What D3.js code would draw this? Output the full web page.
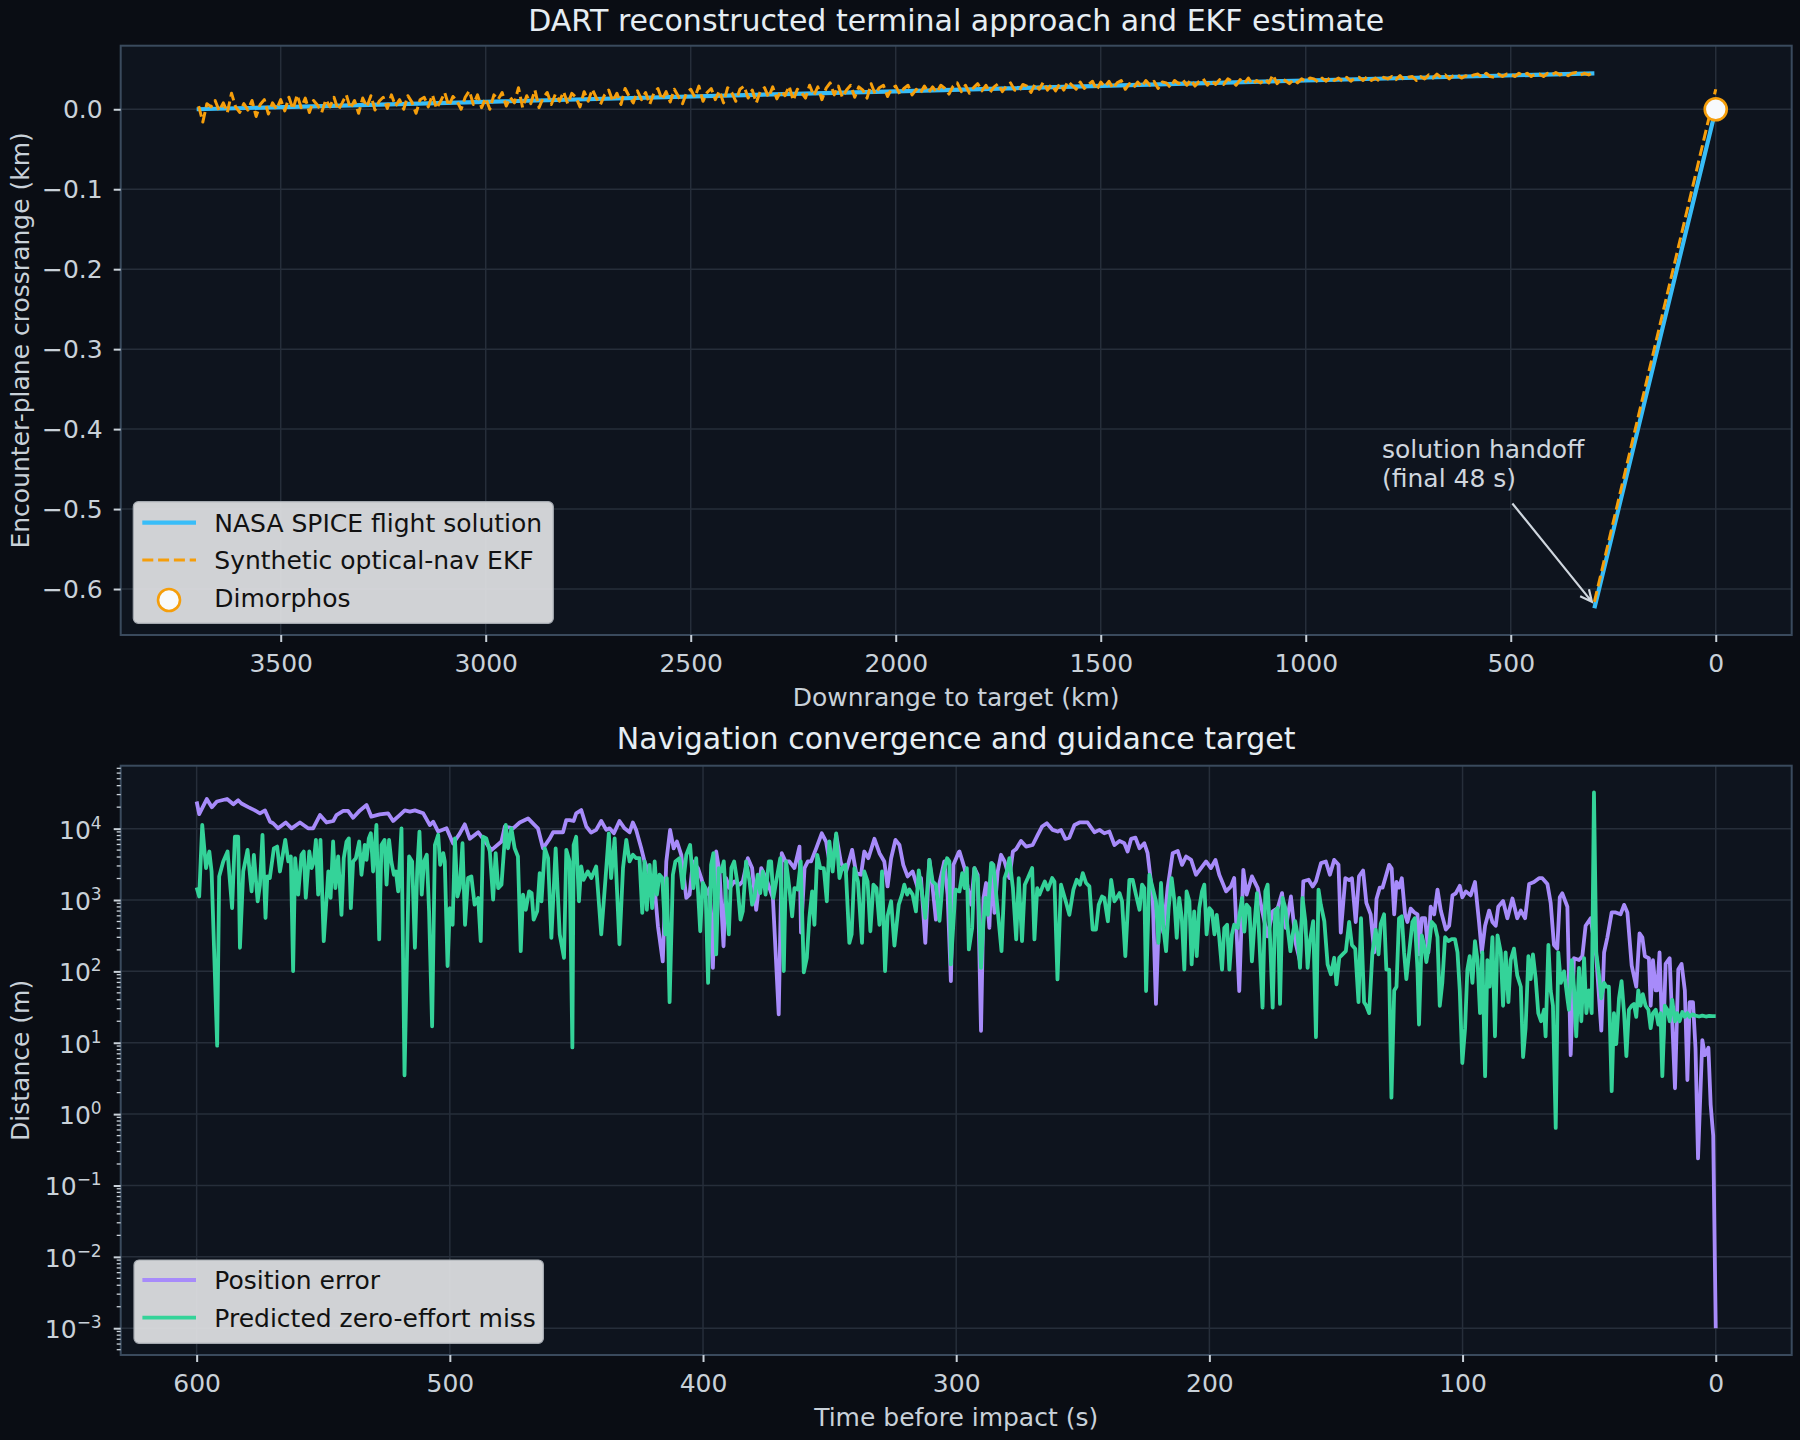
<!DOCTYPE html>
<html lang="en">
<head>
<meta charset="utf-8">
<title>DART terminal approach and EKF estimate</title>
<script src="https://cdn.jsdelivr.net/npm/d3@7"></script>
<style>
  body { margin: 0; background: #0a0d14; font-family: "DejaVu Sans", sans-serif; }
  svg { display: block; }
</style>
</head>
<body>
<script>

// ---- top panel data (km) ----
// flight solution, cruise leg and terminal leg
var truthDownKm = [3705, 3000, 2000, 1000, 296];
var truthCrossKm = [0.000, 0.0093, 0.0225, 0.036, 0.045];
var terminalDownKm = [296, 0];
var terminalTruthKm = [-0.624, 0.000];
var terminalEkfKm = [-0.616, 0.025];

// EKF crossrange sampled every 10 km, 3700 -> 300
var ekfCrossKm = [
  0.004,-0.016,0.007,0.003,0.011,-0.002,0.008,-0.004,0.020,0.003,
  -0.004,0.007,-0.001,0.011,-0.009,0.006,0.012,-0.006,0.008,0.000,
  0.012,-0.002,0.015,0.000,0.018,0.002,0.014,-0.004,0.011,0.005,
  -0.004,0.012,0.003,0.015,-0.001,0.008,0.018,0.001,0.011,-0.005,
  0.014,0.003,0.017,-0.001,0.010,0.015,0.001,0.018,0.004,0.012,
  0.000,0.017,0.009,-0.005,0.012,0.015,0.003,0.018,0.001,0.010,
  0.021,0.004,0.016,0.010,0.000,0.015,0.023,0.006,0.018,0.002,
  0.014,0.000,0.018,0.012,0.021,0.004,0.015,0.008,0.027,0.002,
  0.017,0.007,0.024,0.002,0.014,0.021,0.006,0.019,0.010,0.022,
  0.007,0.020,0.015,0.003,0.022,0.010,0.025,0.014,0.006,0.018,
  0.024,0.010,0.020,0.006,0.026,0.016,0.008,0.023,0.012,0.021,
  0.006,0.020,0.026,0.012,0.022,0.009,0.025,0.016,0.007,0.021,
  0.025,0.015,0.029,0.010,0.021,0.026,0.012,0.023,0.008,0.027,
  0.021,0.010,0.025,0.029,0.014,0.024,0.008,0.023,0.027,0.015,
  0.028,0.013,0.023,0.017,0.029,0.011,0.025,0.021,0.014,0.030,
  0.017,0.028,0.012,0.026,0.033,0.018,0.029,0.015,0.024,0.030,
  0.015,0.028,0.024,0.014,0.032,0.019,0.027,0.030,0.016,0.026,
  0.029,0.019,0.026,0.030,0.018,0.025,0.020,0.029,0.021,0.028,
  0.021,0.030,0.026,0.019,0.029,0.033,0.022,0.030,0.020,0.027,
  0.032,0.023,0.030,0.021,0.028,0.032,0.022,0.029,0.033,0.024,
  0.022,0.031,0.029,0.021,0.032,0.025,0.034,0.024,0.031,0.023,
  0.032,0.024,0.035,0.030,0.025,0.034,0.026,0.031,0.035,0.024,
  0.034,0.028,0.035,0.026,0.033,0.036,0.025,0.032,0.027,0.034,
  0.028,0.036,0.030,0.035,0.026,0.034,0.033,0.027,0.036,0.032,
  0.037,0.030,0.037,0.029,0.035,0.038,0.030,0.036,0.031,0.037,
  0.031,0.038,0.035,0.030,0.037,0.032,0.039,0.031,0.036,0.033,
  0.038,0.033,0.043,0.032,0.038,0.036,0.032,0.037,0.033,0.038,
  0.035,0.039,0.038,0.034,0.039,0.035,0.040,0.036,0.039,0.035,
  0.040,0.035,0.039,0.040,0.036,0.041,0.036,0.039,0.035,0.040,
  0.038,0.041,0.037,0.042,0.037,0.040,0.041,0.036,0.041,0.038,
  0.043,0.039,0.044,0.040,0.043,0.038,0.042,0.043,0.039,0.042,
  0.040,0.043,0.044,0.040,0.045,0.041,0.040,0.044,0.041,0.044,
  0.044,0.041,0.045,0.042,0.045,0.041,0.044,0.044,0.041,0.045,
  0.043,0.046,0.043,0.045,0.042,0.045,0.046,0.043,0.045,0.043,
  0.046
];
var ekfDownKm = d3.range(3700, 299, -10);

var dimorphos = [0, 0];
var topXTicks = [3500, 3000, 2500, 2000, 1500, 1000, 500, 0];
var topYTicks = [0.0, -0.1, -0.2, -0.3, -0.4, -0.5, -0.6];

// ---- bottom panel data: [seconds before impact, metres] ----
var positionError = [
  [600,24000],[599,16000],[596,26000],[594,20000],[592,24000],[588,26000],[585.5,22000],[583.6,25000],
  [582.3,22500],[579.6,20000],[577,18000],[575,16400],[573,18000],[571,12500],[569.8,11900],[567.8,10100],
  [564.8,12200],[562.5,10100],[559.2,12200],[556,10100],[554,10100],[551.3,15500],[548.7,12200],[546,12800],
  [544.8,15500],[542.1,17700],[540.2,17700],[538.2,14200],[535.5,18000],[532.9,21400],[531,14700],[527.7,15800],
  [524.4,16400],[522.4,12800],[519.8,15500],[517.8,18000],[515.8,17300],[513.8,18000],[510.5,16400],[507.9,11200],
  [506.6,12500],[504.6,9100],[501.3,10100],[498.7,6200],[496.1,8500],[494.1,11500],[492.1,7200],[488.8,8900],
  [487.5,7700],[483.6,5000],[479.6,6600],[478.3,10700],[475,10100],[472.4,12200],[469.1,13900],[466.5,11200],
  [465.2,10100],[463.2,5300],[460.5,7300],[459.2,8900],[455.3,8900],[454,13200],
  [452.7,13200],[451.1,12800],[450.1,16400],[448.1,18200],[446.1,10700],[444.2,8800],[442.2,9600],[440.2,12800],
  [438.2,9600],[436.9,10100],[435.2,8600],[433,12800],[431,10100],[429,8900],[427.7,12200],[426.4,9600],
  [424.4,5300],[423.1,3470],[421.1,2260],[419.1,1470],[417.8,430],[415.9,138],[414.5,3470],[413,9600],
  [411.6,5300],[410.3,6600],[408.6,4300],[406.6,1070],[405.3,1190],[404,3470],[402,2800],[400.7,2030],
  [398.8,1190],[397.4,1470],[396.1,112],[394.8,4780],[393.5,2510],[391.9,225],[390.9,2030],[389.5,1470],
  [387.6,1820],[385.6,1640],[384.3,1820],[382.3,3850],[380.6,2800],[379,730],[377,2800],[375.1,2030],
  [372.4,1070],[370.1,25],[368.9,4530],[367.4,3470],[365.9,3470],[363.9,2800],[361.9,5600],[361.3,350],
  [359.9,2800],[358.6,3470],[357.3,3470],[355.3,5300],[353.1,8600],[351.4,6600],[350.1,3470],[348.8,3110],
  [347.4,8200],[345.5,3290],[343.5,2510],[341.1,5040],[339.5,2380],[337.6,2260],[336.3,4780],[334.7,3850],
  [332.3,7200],[330.3,4530],[328.4,3470],[327.1,1550],[325.7,3850],[324,6950],[322.4,5900],[320.9,3110],
  [319.2,2140],[317.2,2510],[315.2,1470],[313.9,2030],[312.2,250],[310.6,3650],[309.3,1470],[308,530],
  [306.6,1730],[304.7,3470],[303.4,1190],[302.1,73],[301.1,3110],[299,4680],
  [298.7,4780],[296.7,2800],[295.4,1470],[294.1,860],[292.8,2800],[291.5,2260],[290.2,14.7],[289.2,1070],
  [288.2,1730],[286.9,406],[285.9,3290],[284.9,660],[283.6,2510],[282.3,4300],[280.9,3470],[279,2030],
  [277.6,4780],[276.3,5200],[274.4,6730],[272.4,5600],[269.8,5900],[267.8,8200],[266.1,10700],[264.2,11900],
  [261.9,9600],[259.9,9100],[258.6,9600],[256.9,7200],[255.3,7480],[253.3,11250],[251.3,12200],[248.1,12200],
  [245.4,8900],[243.4,9600],[241.5,8600],[239.5,9100],[237.5,5900],[235.5,6730],[233.6,6240],[232.3,4780],
  [230.9,7200],[229.2,7480],[227.6,5300],[225.7,6240],[224.4,4530],[222.4,1120],[221.1,35],[219.8,770],
  [218.2,350],[216.5,1470],[214.5,4530],[212.5,4880],[210.8,3110],[209.2,4070],[207.2,3650],[205.3,2260],
  [203.3,2800],[201.3,3470],[199.4,2800],[197.6,3650],[196.1,2260],[193.4,1320],[191.5,1550],[190.2,2030],
  [188.2,53],[186.6,2650],[185.3,1190],[183.2,2140],[180.9,1470],[179,660],[177,310],[175,695],
  [173,770],[171.3,1250],[169.8,406],[167.8,1120],[165.8,238],[164.2,138],[162.9,1830],[160.8,1920],
  [159.2,1550],[157.9,1830],[155.9,3290],[154,3470],[152.4,2260],[150.7,3650],[149,3110],[148.1,350],[146.3,2030],
  [144.8,1900],[143.7,2020],[142.2,492],[140.9,2150],[139.3,2590],[138,910],[136.3,630],[134.9,184],
  [134,1030],[132.7,1490],[131.6,1490],[130.3,2150],[129,3110],[128,2750],[127,630],[126.1,1790],
  [125.1,1490],[124,2020],[122.7,630],[121.8,492],[120.5,757],[119.1,670],[117.8,630],[117.2,173],
  [116.1,556],[114.8,556],[113.5,184],[112.6,804],[111.2,630],[109.9,1400],[108.6,711],[106.6,385],
  [105.3,435],[104,1160],[102.7,1240],[101.1,1580],[100.1,1090],[98.7,1320],[96.8,1160],[95.1,1790],
  [93.5,492],[92.4,184],[91.1,435],[89.5,711],[88.2,492],[86.9,435],[85.9,804],[84,970],
  [82.3,556],[80.3,1050],[78.4,556],[77,711],[75.3,556],[73.7,1680],[71.8,1790],[69.8,2020],
  [68.5,2020],[66.5,1680],[65.2,910],[63.9,235],[62.6,208],[61.6,1090],[60.6,1240],[58.6,804],
  [57.3,6.7],[56,153],[54,144],[52.7,163],[51.4,435],[49.4,556],[47.2,163],[45.2,14.8],
  [44.1,184],[42.8,300],[41.1,670],[39.5,670],[37.6,630],[36.2,855],[34.9,670],[33.2,120],
  [31.4,61],[30.1,340],[29,300],[28,163],[26.4,153],[25.7,33],[24.8,144],[23.7,54],
  [23.1,54],[22.2,184],[20.9,7.5],[19.8,127],[18.2,153],[16.1,2.3],[14.8,106],[13.5,127],
  [12.2,54],[11.2,3],[10.3,37],[9,37],[8,8.5],[7,0.24],[5.3,10.9],[4.3,6.7],
  [2.9,8.5],[2,1.35],[1,0.5],[0,0.001]
];

var zeroEffortMiss = [
  [600,1500],[599,1120],[597.8,11250],[596.3,2800],[595,4780],[594.1,2510],[591.9,9.1],[591.1,2140],
  [589.5,3470],[587.8,4780],[586,770],[584.9,7700],[583.6,7700],[582.9,214],[581.6,2510],[579.9,5040],
  [578.3,1320],[577.4,4300],[575.9,960],[575,1640],[574,8200],[572.8,560],[572.1,2140],[571.1,2030],
  [569.5,5300],[568.2,5600],[567.1,2510],[565,6950],[563.8,3470],[562.8,4070],[561.9,101],[561.1,3850],
  [559.9,1190],[558.6,4300],[557.7,4780],[556.9,1070],[555.5,4780],[554.6,2800],[553.7,3470],[552.9,6950],
  [552,1190],[551.1,6950],[549.8,265],[548,2510],[547.1,1070],[546.1,6600],[545.2,1470],[544.1,4070],
  [542.8,620],[541.9,3850],[540.8,6600],[539.9,7300],[539.1,770],[538.2,3470],[537.1,3850],[535.8,6600],
  [534.9,2260],[533.6,5900],[532.9,3650],[532,7300],[531.2,8600],[530.3,2510],[529,11250],[527.9,280],
  [527,5900],[525.8,6950],[525,1640],[524,6950],[523.1,3470],[522.1,2260],[521.3,2510],[520.4,1320],
  [519.1,10100],[517.9,3.5],[516.1,4070],[514.9,3470],[513.8,214],[512.9,2510],[512,9100],[511.1,1190],
  [510.2,3470],[509.1,4300],[508.2,695],[507,17],[505.9,5900],[504.6,8200],[503.8,3110],[502.6,4530],
  [502,3470],[500.9,119],[500,770],[498.9,450],[498,7300],[497,1120],[496.1,1470],[495,6240],
  [494,450],[492.8,2030],[491.5,2140],[490.2,860],[488.8,1070],[487.8,265],[486.9,7700],[485.6,7300],
  [484.2,4780],[482.9,1010],[481.9,4530],[480.9,1470],[479.6,1640],[477.9,11250],[477,5300],[475.7,10100],
  [474.4,5300],[473.1,4070],[472,192],[471.1,1190],[470,730],[468.7,1320],[467.7,1250],[466.9,530],
  [465.5,695],[464.5,2380],[463.8,960],[462.5,5300],[461.2,3850],[459.9,295],[458.2,5300],[456.6,330],
  [454.9,155],[454,5040],
  [452.7,3470],[451.6,8.6],[451.1,5900],[450.1,7700],[449,960],[448.1,2950],[447.2,1920],[445.5,2510],
  [444.1,2030],[442.2,2950],[440.2,330],[438.5,2030],[437.2,8600],[436.3,2030],[434.9,7300],[433,240],
  [431.6,2800],[430.3,6950],[429,3470],[427.7,4300],[426.4,3850],[425.1,3850],[424,660],[423.1,3470],
  [422.2,730],[421.1,3110],[420.1,770],[419.1,3470],[418.2,1190],[417.2,2260],[416.1,2030],[414.9,330],
  [414.3,2030],[413.2,37],[411.9,2260],[410.9,3470],[409.3,3850],[408,1470],[406.6,4300],[405.1,5900],
  [403.8,1470],[402.7,3850],[401.1,365],[400.1,1730],[399,1470],[398,69],[396.8,3110],[395.9,4530],
  [394.8,173],[393.8,2800],[392.8,2510],[391.8,3470],[390.9,960],[389.8,330],[388.8,2800],[387.7,3470],
  [386.5,1820],[385.2,530],[384.3,695],[383,3470],[381.6,1820],[380.6,860],[379.7,1070],[378.4,2260],
  [377.4,1250],[376.4,2510],[375.3,1190],[374,3470],[373.1,3470],[372.2,1070],[371.1,1820],[369.5,3850],
  [368.1,101],[367.2,3470],[365.9,1470],[364.8,590],[363.9,1470],[362.6,1400],[361.4,3470],[360.2,97],
  [359,155],[358,560],[356.9,1320],[356,450],[354.9,4300],[353.7,2800],[352.3,2800],[351.1,960],
  [350.1,6600],[348.8,2510],[347.4,8600],[346.1,2030],[345.1,2800],[343.7,3110],[342.2,250],[341.3,330],
  [340.2,2800],[338.8,1820],[337.2,250],[336.3,2510],[335,1820],[333.9,365],[332.7,1640],[331.5,1470],
  [330.3,450],[329.3,2510],[328.1,101],[327.1,600],[325.7,960],[324.4,230],[322.7,860],[321.4,1190],
  [320.5,1640],[319.4,1190],[318.5,1400],[317.2,1190],[315.9,695],[314.8,2600],[313.5,1250],[312.2,560],
  [310.6,3650],[309.3,1820],[308,1640],[306.6,510],[305,2510],[303.6,3850],[302.7,3470],[302.1,125],[300.3,1400],
  [298.7,1320],[297.6,2380],[296.7,1470],[295.8,2800],[295,203],[293.7,406],[292.8,2800],[291.5,2030],
  [290.2,112],[289.2,504],[288.4,1070],[287.5,620],[286.2,3290],[285.3,3110],[284.2,1190],[283.2,504],
  [282.1,192],[280.9,2030],[280,2510],[279,3850],[277.6,1470],[276.3,280],[275.3,2030],[274,265],
  [272.9,1640],[271.7,2030],[270,2800],[269.1,280],[268,1470],[267.1,1190],[266.1,1470],[265,1820],
  [263.8,1400],[262.1,2030],[261.2,1820],[260,77],[258.6,1640],[256.9,1010],[255.3,620],[253.7,1400],
  [252.4,1920],[251.1,1640],[250,2380],[248.7,1730],[247.4,1550],[246.1,385],[244.8,385],[243.7,860],
  [242.4,1120],[241.5,1070],[240.1,504],[238.8,1920],[237.5,960],[236.6,1070],[235.5,1250],[234.5,960],
  [233.2,164],[231.6,1920],[230.3,1920],[229,1190],[227.6,730],[226.6,1640],[225.7,1470],[225,53],
  [223.7,2260],[222.4,1470],[221.1,960],[220.1,250],[219.1,1730],[218.2,406],[217.1,192],[216.1,770],
  [214.9,2030],[213.8,960],[212.9,295],[211.9,1070],[210.9,560],[209.9,106],[209,1320],[207.9,960],
  [207,125],[206,695],[205,164],[204,770],[202.9,1320],[202,1640],[201.1,330],[200,770],
  [199,695],[198,330],[197.1,620],[196.1,295],[195,106],[194.1,406],[193,450],[192.1,106],
  [191.1,330],[190.2,450],[188.8,406],[187.9,695],[187.1,1070],[186.2,360],[185.3,860],[184.2,770],
  [183.2,138],[182.3,406],[181.2,1250],[180.3,295],[179,31],[177.9,1320],[177,1640],[176.1,330],
  [175,31],[174,695],[173,770],[172.1,35],[171.1,1070],[170,770],[169.1,406],[168,192],
  [167.1,330],[166.1,504],[165.2,330],[164.2,112],[163.2,1070],[162.1,504],[161.2,112],[160.3,265],
  [159,504],[157.9,12],[156.9,1400],[156,860],[154.6,504],[153.3,125],[152,91],[150.7,155],
  [149.8,66],[148.7,155],[147.4,173],[146.1,192],
  [144.8,492],[143.7,235],[142.4,208],[141.1,37],[140.1,556],[138.9,37],[138,33],[136.9,26],
  [135.6,184],[134.3,385],[133.2,173],[132.3,462],[131,630],[130.1,106],[129,106],[128.1,1.7],
  [127,54],[126.1,61],[125.1,556],[124,592],[123.1,184],[122.2,78],[121.1,184],[119.8,492],
  [118.9,556],[117.8,106],[117.2,18],[116.1,320],[115.2,235],[114.3,135],[113.2,235],[112.2,492],
  [110.9,435],[109.9,301],[109,33],[108,69],[106.9,301],[105.6,266],[104.3,283],[103,283],
  [102,184],[101.1,54],[100.1,5.2],[99,16],[98.1,106],[97.2,163],[96.1,69],[95.1,266],
  [94.1,144],[93.1,26],[92.2,184],[91.1,3.4],[90.2,144],[89.3,61],[88.2,301],[87.2,12.3],
  [86.2,320],[84.9,184],[84,33],[83,184],[81.9,37],[81,144],[79.7,208],[78.4,88],
  [77,61],[76.1,6.3],[75.1,16],[74,163],[73.1,78],[72.2,173],[71.1,78],[70.1,26],
  [69,20],[67.8,29],[67.2,12.3],[66.1,235],[65.2,54],[64.3,33],[63.2,0.64],[62.2,184],
  [61.2,69],[59.9,100],[58.6,42],[58,29],[56.9,144],[56,61],[55.1,12.3],[54,112],
  [53.1,20],[52,153],[51.1,26],[50.1,54],[49,26],[48.1,32100],[47.2,184],[46.1,88],
  [45.2,42],[44.1,69],[43.2,61],[42.2,61],[41.1,2.1],[40.2,26],[39.3,9.6],[38.2,42],
  [37.2,73],[36.2,26],[35.3,6.5],[34.3,29],[33.2,33],[32.3,35],[31.4,23],[30.6,54],
  [29.7,33],[28.8,48],[27.7,33],[26.6,29],[25.7,16],[24.8,26],[23.7,29],[22.7,18],
  [21.8,26],[21.1,3.4],[20.1,33],[19.1,29],[18.2,20],[17.2,40],[16.1,20],[15.2,26],
  [14.3,20],[13.2,27],[12.2,23],[11.2,26],[10.3,23],[9.3,25],[8,24],[6.6,23.3],
  [5.3,24],[3.9,23.3],[2.6,23.8],[1.3,23.6],[0,23.6]
];

var botXTicks = [600, 500, 400, 300, 200, 100, 0];
var botYExponents = [-3, -2, -1, 0, 1, 2, 3, 4];

// ---- colours / layout ----
var w = 1800, h = 1440;
var figBg = "#0a0d14", axBg = "#0e141e";
var gridColor = "#262e3a", spineColor = "#3a4a5d";
var textColor = "#c9d1d9", titleColor = "#e6edf3";
var blue = "#38bdf8", orange = "#f59e0b", purple = "#a78bfa", green = "#34d399";
var font = "DejaVu Sans";
var fs = 25, titleFs = 30;

var p1 = {l: 120.7, r: 1791.7, t: 45.7, b: 635};
var p2 = {l: 120.7, r: 1791.7, t: 765.7, b: 1355};

var svg = d3.select("body").append("svg").attr("width", w).attr("height", h);
svg.append("rect").attr("width", w).attr("height", h).attr("fill", figBg);

function frame(p) {
  svg.append("rect").attr("x", p.l).attr("y", p.t)
    .attr("width", p.r - p.l).attr("height", p.b - p.t).attr("fill", axBg);
}
function spines(p) {
  svg.append("rect").attr("x", p.l).attr("y", p.t)
    .attr("width", p.r - p.l).attr("height", p.b - p.t)
    .attr("fill", "none").attr("stroke", spineColor).attr("stroke-width", 2);
}
function styleAxis(g) {
  g.attr("font-family", font).attr("font-size", fs);
  g.select(".domain").remove();
  g.selectAll(".tick line").attr("stroke", textColor).attr("stroke-width", 2);
  g.selectAll(".tick text").attr("fill", textColor);
}

// =========== TOP PANEL ===========
frame(p1);

var allDown = truthDownKm.concat(terminalDownKm, ekfDownKm);
var allCross = truthCrossKm.concat(terminalTruthKm, terminalEkfKm, ekfCrossKm);
var xMax = d3.max(allDown), xMin = d3.min(allDown);
var xPad = (xMax - xMin) * 0.05;
var yMax = d3.max(allCross), yMin = d3.min(allCross);
var yPad = (yMax - yMin) * 0.05;

var xTop = d3.scaleLinear().domain([xMax + xPad, xMin - xPad]).range([p1.l, p1.r]);
var yTop = d3.scaleLinear().domain([yMin - yPad, yMax + yPad]).range([p1.b, p1.t]);

// grid
svg.append("g").selectAll("line").data(topXTicks).enter().append("line")
  .attr("x1", function(d) { return xTop(d); }).attr("x2", function(d) { return xTop(d); })
  .attr("y1", p1.t).attr("y2", p1.b).attr("stroke", gridColor).attr("stroke-width", 1.5);
svg.append("g").selectAll("line").data(topYTicks).enter().append("line")
  .attr("y1", function(d) { return yTop(d); }).attr("y2", function(d) { return yTop(d); })
  .attr("x1", p1.l).attr("x2", p1.r).attr("stroke", gridColor).attr("stroke-width", 1.5);

var lineTop = d3.line()
  .defined(function(d) { return d != null; })
  .x(function(d) { return xTop(d[0]); })
  .y(function(d) { return yTop(d[1]); });

var truthPts = truthDownKm.map(function(d, i) { return [d, truthCrossKm[i]]; });
truthPts.push(null);
terminalDownKm.forEach(function(d, i) { truthPts.push([d, terminalTruthKm[i]]); });

var ekfPts = ekfDownKm.map(function(d, i) { return [d, ekfCrossKm[i]]; });
ekfPts.push(null);
terminalDownKm.forEach(function(d, i) { ekfPts.push([d, terminalEkfKm[i]]); });

svg.append("path").attr("d", lineTop(truthPts))
  .attr("fill", "none").attr("stroke", blue).attr("stroke-width", 4.2)
  .attr("stroke-linejoin", "round");
svg.append("path").attr("d", lineTop(ekfPts))
  .attr("fill", "none").attr("stroke", orange).attr("stroke-width", 3.0)
  .attr("stroke-dasharray", "11,4.8").attr("stroke-linejoin", "round");

svg.append("circle").attr("cx", xTop(dimorphos[0])).attr("cy", yTop(dimorphos[1]))
  .attr("r", 11).attr("fill", "#f8fafc").attr("stroke", orange).attr("stroke-width", 2.6);

// annotation
var annText = [814, -0.425], annFrom = [496, -0.493], annTo = [302, -0.616];
var ann = svg.append("text").attr("x", xTop(annText[0])).attr("y", yTop(annText[1]) + 9)
  .attr("font-family", font).attr("font-size", fs).attr("fill", "#cfd6de");
ann.append("tspan").text("solution handoff");
ann.append("tspan").attr("x", xTop(annText[0])).attr("dy", 29).text("(final 48 s)");

var ax0 = xTop(annFrom[0]), ay0 = yTop(annFrom[1]);
var ax1 = xTop(annTo[0]), ay1 = yTop(annTo[1]);
var ang = Math.atan2(ay1 - ay0, ax1 - ax0);
var headLen = 13, headAng = 0.45;
svg.append("path")
  .attr("d", "M" + ax0 + "," + ay0 + "L" + ax1 + "," + ay1 +
    "M" + (ax1 - headLen * Math.cos(ang - headAng)) + "," + (ay1 - headLen * Math.sin(ang - headAng)) +
    "L" + ax1 + "," + ay1 +
    "L" + (ax1 - headLen * Math.cos(ang + headAng)) + "," + (ay1 - headLen * Math.sin(ang + headAng)))
  .attr("fill", "none").attr("stroke", "#cfd6de").attr("stroke-width", 2.2)
  .attr("stroke-linejoin", "miter");

spines(p1);

svg.append("g").attr("transform", "translate(0," + p1.b + ")")
  .call(d3.axisBottom(xTop).tickValues(topXTicks).tickSize(7).tickPadding(12).tickFormat(d3.format("d")))
  .call(styleAxis);
svg.append("g").attr("transform", "translate(" + p1.l + ",0)")
  .call(d3.axisLeft(yTop).tickValues(topYTicks).tickSize(7).tickPadding(11).tickFormat(d3.format(".1f")))
  .call(styleAxis);

svg.append("text").attr("x", (p1.l + p1.r) / 2).attr("y", 31)
  .attr("text-anchor", "middle").attr("font-family", font).attr("font-size", titleFs)
  .attr("fill", titleColor).text("DART reconstructed terminal approach and EKF estimate");
svg.append("text").attr("x", (p1.l + p1.r) / 2).attr("y", 706)
  .attr("text-anchor", "middle").attr("font-family", font).attr("font-size", fs)
  .attr("fill", textColor).text("Downrange to target (km)");
svg.append("text").attr("transform", "translate(29," + ((p1.t + p1.b) / 2) + ") rotate(-90)")
  .attr("text-anchor", "middle").attr("font-family", font).attr("font-size", fs)
  .attr("fill", textColor).text("Encounter-plane crossrange (km)");

// legend top
function legendBox(x, y, wd, ht) {
  svg.append("rect").attr("x", x).attr("y", y).attr("width", wd).attr("height", ht)
    .attr("rx", 5).attr("fill", "#e6e7e9").attr("fill-opacity", 0.9)
    .attr("stroke", "#a4a9b0").attr("stroke-width", 1.2);
}
function legendText(x, y, s) {
  svg.append("text").attr("x", x).attr("y", y + 9).attr("font-family", font)
    .attr("font-size", fs).attr("fill", "#111").text(s);
}
legendBox(133.3, 501.7, 420, 121.6);
svg.append("line").attr("x1", 142.3).attr("x2", 196).attr("y1", 522.7).attr("y2", 522.7)
  .attr("stroke", blue).attr("stroke-width", 4.2);
legendText(214.3, 522.7, "NASA SPICE flight solution");
svg.append("line").attr("x1", 142.3).attr("x2", 196).attr("y1", 560).attr("y2", 560)
  .attr("stroke", orange).attr("stroke-width", 3.0).attr("stroke-dasharray", "11,4.8");
legendText(214.3, 560, "Synthetic optical-nav EKF");
svg.append("circle").attr("cx", 169).attr("cy", 600).attr("r", 11)
  .attr("fill", "#f8fafc").attr("stroke", orange).attr("stroke-width", 2.6);
legendText(214.3, 598.3, "Dimorphos");

// =========== BOTTOM PANEL ===========
frame(p2);

var allT = positionError.concat(zeroEffortMiss).map(function(d) { return d[0]; });
var allV = positionError.concat(zeroEffortMiss).map(function(d) { return Math.log10(d[1]); });
var tMax = d3.max(allT), tMin = d3.min(allT), tPad = (tMax - tMin) * 0.05;
var lMax = d3.max(allV), lMin = d3.min(allV), lPad = (lMax - lMin) * 0.05;

var xBot = d3.scaleLinear().domain([tMax + tPad, tMin - tPad]).range([p2.l, p2.r]);
var yBot = d3.scaleLog().domain([Math.pow(10, lMin - lPad), Math.pow(10, lMax + lPad)]).range([p2.b, p2.t]);
var decadeVals = botYExponents.map(function(e) { return Math.pow(10, e); });

svg.append("g").selectAll("line").data(botXTicks).enter().append("line")
  .attr("x1", function(d) { return xBot(d); }).attr("x2", function(d) { return xBot(d); })
  .attr("y1", p2.t).attr("y2", p2.b).attr("stroke", gridColor).attr("stroke-width", 1.5);
svg.append("g").selectAll("line").data(decadeVals).enter().append("line")
  .attr("y1", function(d) { return yBot(d); }).attr("y2", function(d) { return yBot(d); })
  .attr("x1", p2.l).attr("x2", p2.r).attr("stroke", gridColor).attr("stroke-width", 1.5);

var lineBot = d3.line()
  .x(function(d) { return xBot(d[0]); })
  .y(function(d) { return yBot(d[1]); });

svg.append("path").attr("d", lineBot(positionError))
  .attr("fill", "none").attr("stroke", purple).attr("stroke-width", 3.8).attr("stroke-linejoin", "round");
svg.append("path").attr("d", lineBot(zeroEffortMiss))
  .attr("fill", "none").attr("stroke", green).attr("stroke-width", 3.8).attr("stroke-linejoin", "round");

spines(p2);

svg.append("g").attr("transform", "translate(0," + p2.b + ")")
  .call(d3.axisBottom(xBot).tickValues(botXTicks).tickSize(7).tickPadding(12).tickFormat(d3.format("d")))
  .call(styleAxis);

// minor log ticks
var minorVals = [];
botYExponents.concat([-4]).forEach(function(e) {
  for (var k = 2; k <= 9; k++) {
    var v = k * Math.pow(10, e);
    if (v > yBot.domain()[0] && v < yBot.domain()[1]) minorVals.push(v);
  }
});
svg.append("g").selectAll("line").data(minorVals).enter().append("line")
  .attr("x1", p2.l - 4).attr("x2", p2.l)
  .attr("y1", function(d) { return yBot(d); }).attr("y2", function(d) { return yBot(d); })
  .attr("stroke", textColor).attr("stroke-width", 1.3);

svg.append("g").attr("transform", "translate(" + p2.l + ",0)")
  .call(d3.axisLeft(yBot).tickValues(decadeVals).tickSize(7).tickFormat(function() { return ""; }))
  .call(styleAxis);

var expLabels = svg.append("g").selectAll("text").data(botYExponents).enter().append("text")
  .attr("x", p2.l - 19).attr("y", function(e) { return yBot(Math.pow(10, e)) + 10; })
  .attr("text-anchor", "end").attr("font-family", font).attr("font-size", fs).attr("fill", textColor);
expLabels.append("tspan").text("10");
expLabels.append("tspan").attr("dy", -10).attr("font-size", 17)
  .text(function(e) { return e < 0 ? "\u2212" + (-e) : String(e); });

svg.append("text").attr("x", (p2.l + p2.r) / 2).attr("y", 749)
  .attr("text-anchor", "middle").attr("font-family", font).attr("font-size", titleFs)
  .attr("fill", titleColor).text("Navigation convergence and guidance target");
svg.append("text").attr("x", (p2.l + p2.r) / 2).attr("y", 1426)
  .attr("text-anchor", "middle").attr("font-family", font).attr("font-size", fs)
  .attr("fill", textColor).text("Time before impact (s)");
svg.append("text").attr("transform", "translate(29," + ((p2.t + p2.b) / 2) + ") rotate(-90)")
  .attr("text-anchor", "middle").attr("font-family", font).attr("font-size", fs)
  .attr("fill", textColor).text("Distance (m)");

// legend bottom
legendBox(134, 1260, 409.4, 83.3);
svg.append("line").attr("x1", 142.4).attr("x2", 196).attr("y1", 1280).attr("y2", 1280)
  .attr("stroke", purple).attr("stroke-width", 3.8);
legendText(214.3, 1280, "Position error");
svg.append("line").attr("x1", 142.4).attr("x2", 196).attr("y1", 1317.7).attr("y2", 1317.7)
  .attr("stroke", green).attr("stroke-width", 3.8);
legendText(214.3, 1317.7, "Predicted zero-effort miss");

</script>
</body>
</html>
